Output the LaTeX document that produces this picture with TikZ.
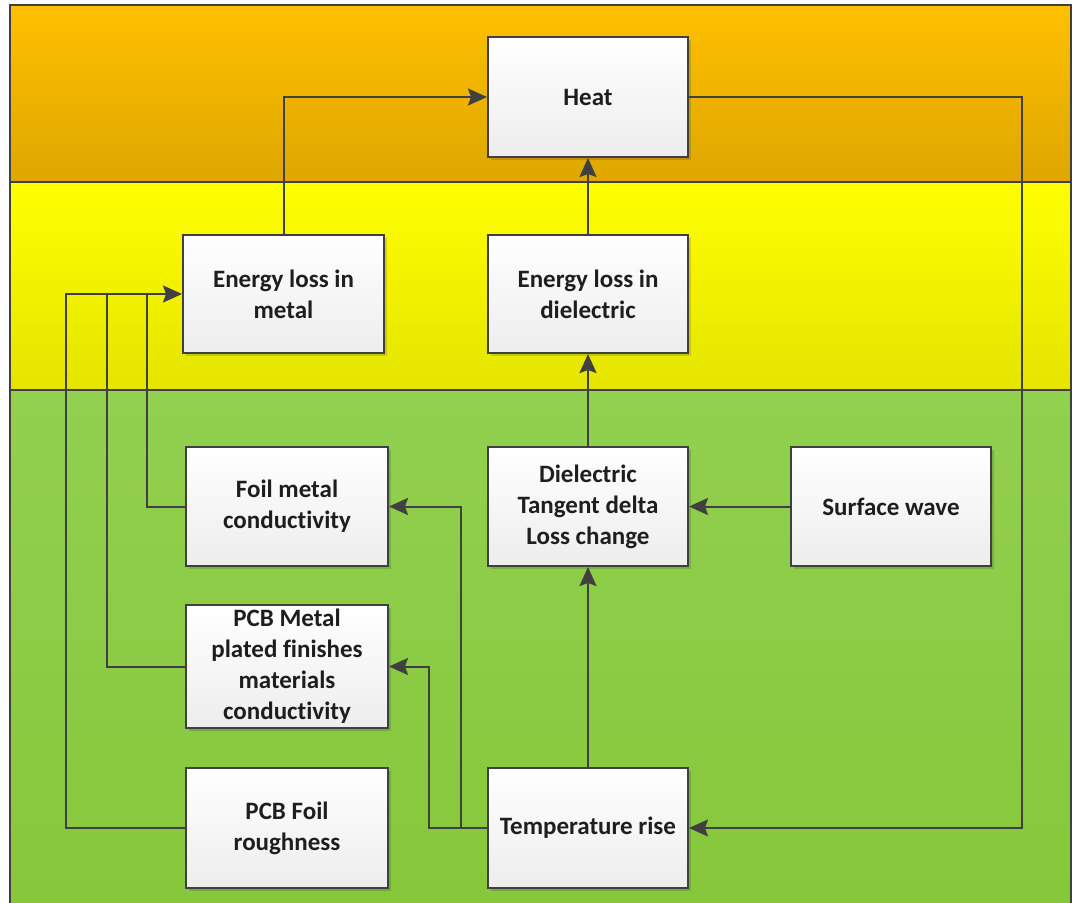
\documentclass[tikz,border=0pt]{standalone}
\usepackage{fontspec}
\setmainfont{Carlito}[Ligatures={NoCommon}]
\usetikzlibrary{arrows.meta}
\definecolor{lineC}{HTML}{404040}
\definecolor{txtC}{HTML}{1E1E1E}
\definecolor{orTop}{RGB}{255,192,0}
\definecolor{orBot}{RGB}{222,166,0}
\definecolor{yeTop}{RGB}{255,255,0}
\definecolor{yeBot}{RGB}{228,228,0}
\definecolor{grTop}{RGB}{146,208,80}
\definecolor{grBot}{RGB}{134,199,58}
\tikzset{
  box/.style={rectangle, draw=lineC, line width=2pt, top color=white, bottom color=black!7,
    align=center, text=txtC, font=\fontsize{25}{31}\selectfont\bfseries,
    inner sep=0pt, minimum width=200pt, minimum height=119pt},
  conn/.style={draw=lineC, line width=2pt},
  arr/.style={conn, -{Stealth[length=19pt,width=17pt,inset=3pt]}},
  band/.style={draw=lineC, line width=2pt}
}
\newcommand{\shadowbox}[4]{\fill[black,opacity=0.14] (#1+3,#2+3) rectangle (#3+3,#4+3);}
\begin{document}
\begin{tikzpicture}[x=1pt,y=-1pt]
\useasboundingbox (0,0) rectangle (1072,903);
\fill[white] (0,0) rectangle (1072,903);
% bands
\shade[top color=orTop, bottom color=orBot] (10,5) rectangle (1071,182);
\shade[top color=yeTop, bottom color=yeBot] (10,182) rectangle (1071,390);
\shade[top color=grTop, bottom color=grBot] (10,390) rectangle (1071,910);
\draw[band] (10,5) rectangle (1071,910);
\draw[band] (10,182) -- (1071,182);
\draw[band] (10,390) -- (1071,390);
% shadows
\shadowbox{488}{37}{688}{157}
\shadowbox{183}{235}{384}{353}
\shadowbox{488}{235}{688}{353}
\shadowbox{186}{447}{388}{566}
\shadowbox{488}{447}{688}{566}
\shadowbox{791}{447}{991}{566}
\shadowbox{186}{605}{388}{728}
\shadowbox{186}{768}{388}{888}
\shadowbox{488}{768}{688}{888}
% nodes
\node[box, minimum width=200pt, minimum height=120pt] (heat) at (588,97) {Heat};
\node[box, minimum width=201pt, minimum height=118pt] (metal) at (283.5,294) {Energy loss in\\metal};
\node[box, minimum height=118pt] (dielE) at (588,294) {Energy loss in\\dielectric};
\node[box, minimum width=202pt] (foil) at (287,506.5) {Foil metal\\conductivity};
\node[box] (tang) at (588,506.5) {Dielectric\\Tangent delta\\Loss change};
\node[box] (surf) at (891,506.5) {Surface wave};
\node[box, minimum width=202pt, minimum height=123pt] (pcbm) at (287,666.5) {PCB Metal\\plated finishes\\materials\\conductivity};
\node[box, minimum width=202pt, minimum height=120pt] (pcbf) at (287,828) {PCB Foil\\roughness};
\node[box, minimum height=120pt] (temp) at (588,828) {Temperature rise};
% coordinates
\coordinate (hr) at (1022,97);
\coordinate (j1) at (461,828);
\coordinate (j2) at (429,828);
\coordinate (c1) at (147,294);
\coordinate (c2) at (107,294);
\coordinate (c3) at (66,294);
% connectors
\draw[arr] (metal.north) |- (heat.west);
\draw[arr] (dielE.north) -- (heat.south);
\draw[arr] (heat.east) -- (hr) |- (temp.east);
\draw[arr] (tang.north) -- (dielE.south);
\draw[arr] (surf.west) -- (tang.east);
\draw[arr] (temp.north) -- (tang.south);
\draw[arr] (temp.west) -- (j1) |- (foil.east);
\draw[arr] (j1) -- (j2) |- (pcbm.east);
\draw[conn] (pcbf.west) -| (c3) -- (c1);
\draw[conn] (pcbm.west) -| (c2);
\draw[arr] (foil.west) -| (c1) -- (metal.west);
\end{tikzpicture}
\end{document}
